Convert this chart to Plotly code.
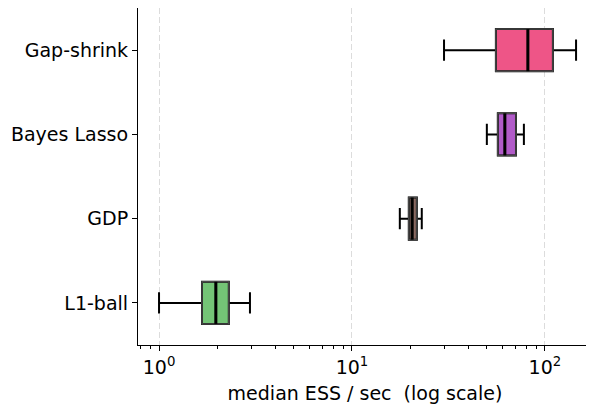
import plotly.graph_objects as go

methods = ["L1-ball", "GDP", "Bayes Lasso", "Gap-shrink"]
lower = [1.0, 17.7, 50.0, 30.0]
q1 = [1.67, 19.7, 57.0, 55.7]
median = [1.97, 20.5, 62.0, 81.6]
q3 = [2.3, 21.7, 70.8, 110.0]
upper = [2.96, 23.0, 77.8, 145.0]
colors = ["#74c476", "#8a6a62", "#b15bc8", "#ee5587"]

tick_vals = [1, 10, 100]
tick_text = ["10<sup>0</sup>", "10<sup>1</sup>", "10<sup>2</sup>"]

FONT = "DejaVu Sans"
FS = 19
BW = 0.5

fig = go.Figure()
shapes = []
for i, m in enumerate(methods):
    fig.add_trace(go.Box(
        y=[m], q1=[q1[i]], median=[median[i]], q3=[q3[i]],
        lowerfence=[lower[i]], upperfence=[upper[i]],
        orientation="h", fillcolor=colors[i],
        line=dict(color="black", width=2), whiskerwidth=0.5,
        width=BW, boxpoints=False, showlegend=False, hoverinfo="skip",
    ))
    shapes.append(dict(type="rect", xref="x", yref="y",
                       x0=q1[i], x1=q3[i], y0=i - BW / 2, y1=i + BW / 2,
                       line=dict(color="#4a4a4a", width=1.5), layer="above"))
    shapes.append(dict(type="line", xref="x", yref="y",
                       x0=median[i], x1=median[i], y0=i - BW / 2, y1=i + BW / 2,
                       line=dict(color="black", width=3), layer="above"))

fig.update_layout(
    width=586, height=400,
    margin=dict(l=130, r=2, t=0, b=63, autoexpand=False),
    paper_bgcolor="white", plot_bgcolor="white",
    font=dict(family=FONT, size=FS, color="black"),
    boxmode="overlay",
    shapes=shapes,
)
fig.update_xaxes(
    type="log", range=[-0.109, 2.244],
    tickmode="array", tickvals=tick_vals, ticktext=tick_text,
    ticks="outside", ticklen=5, tickwidth=1, tickcolor="black",
    showline=True, linecolor="black", linewidth=1.2,
    showgrid=True, gridcolor="#dcdcdc", griddash="6px,3px", gridwidth=1,
    zeroline=False, automargin=False,
    minor=dict(ticks="outside", ticklen=3, tickcolor="black", dtick="D1", showgrid=False),
    title=dict(text="median ESS / sec  (log scale)", font=dict(family=FONT, size=FS), standoff=9),
    tickfont=dict(family=FONT, size=FS),
)
fig.update_yaxes(
    type="category", categoryorder="array", categoryarray=methods,
    range=[-0.5, 3.5],
    ticks="outside", ticklen=5, tickwidth=1, tickcolor="black",
    showline=True, linecolor="black", linewidth=1.2,
    showgrid=False, zeroline=False, automargin=False,
    tickfont=dict(family=FONT, size=FS),
)

fig.write_html("out.html")
